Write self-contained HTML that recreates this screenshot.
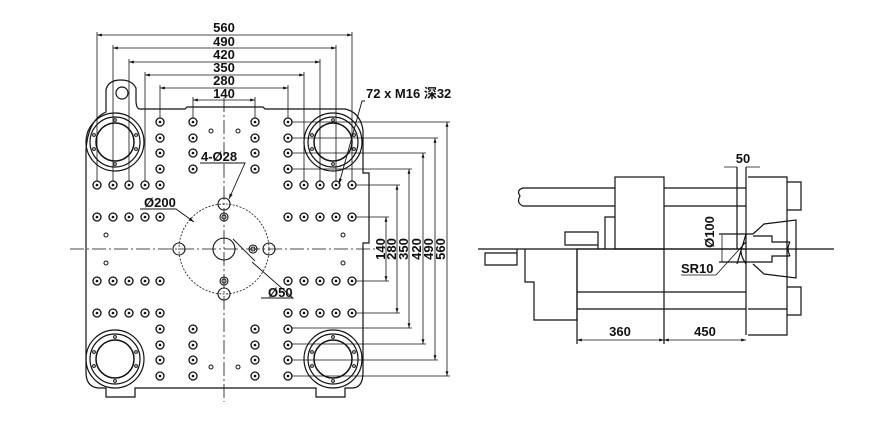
<!DOCTYPE html>
<html><head><meta charset="utf-8"><style>
html,body{margin:0;padding:0;background:#fff;width:880px;height:429px;overflow:hidden}
svg{display:block}
text{font-family:"Liberation Sans","Noto Sans CJK SC",sans-serif;font-weight:bold;font-size:13px;fill:#111}
</style></head><body>
<svg width="880" height="429" viewBox="0 0 880 429" xmlns="http://www.w3.org/2000/svg">
<defs>
<g id="h"><circle r="4" fill="none" stroke="#111" stroke-width="1.3"/><circle r="1.3" fill="#111"/></g>
<g id="ring">
<circle r="29" fill="none" stroke="#111" stroke-width="1.2"/>
<circle r="25" fill="none" stroke="#111" stroke-width="1.2"/>
<circle r="19" fill="none" stroke="#111" stroke-width="1.5"/>
<g fill="none" stroke="#111" stroke-width="1"><circle cx="0" cy="-22" r="1.4"/><circle cx="0" cy="22" r="1.4"/><circle cx="-21" cy="-7" r="1.4"/><circle cx="21" cy="-7" r="1.4"/><circle cx="-21" cy="7" r="1.4"/><circle cx="21" cy="7" r="1.4"/></g>
</g>
<marker id="a" viewBox="0 0 10 10" refX="10" refY="5" markerWidth="6" markerHeight="6" orient="auto-start-reverse"><path d="M0,2 L10,5 L0,8z" fill="#111"/></marker>
</defs>
<g stroke="#111" stroke-width="1.2" fill="none">
<path d="M86,150 L86,372 Q86,388 100,388 L106,388 L106,397 L135,397 L135,388 L316,388 L316,397 L345,397 L345,388 L352,388 Q363,388 363,372 L363,243 L369,243 L369,173 L363,173 L363,130 Q360,112 345,109 L265,109 L263,107 L187,107 L185,109 L140,109 Q136,109 136,100 L136,88 Q132,80 121,80 Q108,80 106,90 L106,112 Q88,120 86,150"/>
<circle cx="122" cy="93" r="6"/>
</g>
<use href="#ring" x="115" y="142"/><use href="#ring" x="333" y="142"/>
<use href="#ring" x="115" y="359"/><use href="#ring" x="333" y="359"/>
<g id="holes">
<use href="#h" x="160" y="122"/><use href="#h" x="193" y="122"/><use href="#h" x="255" y="122"/><use href="#h" x="288" y="122"/>
<use href="#h" x="160" y="138"/><use href="#h" x="193" y="138"/><use href="#h" x="255" y="138"/><use href="#h" x="288" y="138"/>
<use href="#h" x="160" y="153"/><use href="#h" x="193" y="153"/><use href="#h" x="255" y="153"/><use href="#h" x="288" y="153"/>
<use href="#h" x="160" y="169"/><use href="#h" x="193" y="169"/><use href="#h" x="255" y="169"/><use href="#h" x="288" y="169"/>
<use href="#h" x="97" y="185"/><use href="#h" x="113" y="185"/><use href="#h" x="129" y="185"/><use href="#h" x="145" y="185"/><use href="#h" x="160" y="185"/>
<use href="#h" x="288" y="185"/><use href="#h" x="304" y="185"/><use href="#h" x="320" y="185"/><use href="#h" x="336" y="185"/><use href="#h" x="352" y="185"/>
<use href="#h" x="97" y="217"/><use href="#h" x="113" y="217"/><use href="#h" x="129" y="217"/><use href="#h" x="145" y="217"/><use href="#h" x="160" y="217"/>
<use href="#h" x="288" y="217"/><use href="#h" x="304" y="217"/><use href="#h" x="320" y="217"/><use href="#h" x="336" y="217"/><use href="#h" x="352" y="217"/>
</g>
<use href="#holes" transform="translate(0,498) scale(1,-1)"/>
<g fill="none" stroke="#111" stroke-width="1">
<circle cx="211" cy="131" r="2"/><circle cx="238" cy="131" r="2"/><circle cx="211" cy="367" r="2"/><circle cx="238" cy="367" r="2"/>
<circle cx="106" cy="235" r="2"/><circle cx="106" cy="263" r="2"/><circle cx="343" cy="235" r="2"/><circle cx="343" cy="263" r="2"/>
</g>
<g stroke="#111" stroke-width="0.8" stroke-dasharray="14,3,2,3" fill="none">
<line x1="224" y1="98" x2="224" y2="402"/><line x1="70" y1="249" x2="375" y2="249"/>
</g>
<g fill="none" stroke="#111" stroke-width="1.1">
<circle cx="224" cy="249" r="45" stroke-dasharray="2,1.5" stroke-width="0.8"/>
<circle cx="224" cy="249" r="11"/>
<circle cx="224" cy="204" r="6"/><circle cx="224" cy="294" r="6"/><circle cx="179" cy="249" r="6"/><circle cx="269" cy="249" r="6"/>
<circle cx="224" cy="217" r="4"/><circle cx="224" cy="217" r="2"/><circle cx="224" cy="281" r="4"/><circle cx="224" cy="281" r="2"/><circle cx="253" cy="249" r="4"/><circle cx="253" cy="249" r="2"/>
</g>
<g stroke="#111" stroke-width="0.9" fill="none">
<path d="M200,163 L245,163 L229,199" marker-end="url(#a)"/>
<path d="M140,209 L176,209 L194,222" marker-end="url(#a)"/>
<path d="M261,298 L293,298 L252,262 M233,239 L255,261" />
<path d="M365,101 L362,101 L339,184" marker-end="url(#a)"/>
</g>
<text x="201" y="161">4-Ø28</text>
<text x="144" y="207">Ø200</text>
<text x="268" y="297">Ø50</text>
<text x="366" y="98">72 x M16 深32</text>
<g stroke="#111" stroke-width="0.8" fill="none">
<line x1="97" y1="35" x2="352" y2="35" marker-start="url(#a)" marker-end="url(#a)"/>
<line x1="113" y1="48" x2="336" y2="48" marker-start="url(#a)" marker-end="url(#a)"/>
<line x1="129" y1="62" x2="320" y2="62" marker-start="url(#a)" marker-end="url(#a)"/>
<line x1="145" y1="75" x2="304" y2="75" marker-start="url(#a)" marker-end="url(#a)"/>
<line x1="160" y1="88" x2="288" y2="88" marker-start="url(#a)" marker-end="url(#a)"/>
<line x1="193" y1="100" x2="255" y2="100" marker-start="url(#a)" marker-end="url(#a)"/>
<path d="M97,32V181 M352,32V181 M113,45V181 M336,45V181 M129,59V181 M320,59V181 M145,72V181 M304,72V181 M160,85V118 M288,85V118 M193,97V118 M255,97V118"/>
<path d="M292,122H450 M292,138H438 M292,153H426 M292,169H412 M356,185H400 M356,217H389 M356,281H389 M356,313H400 M292,328H412 M292,344H426 M292,360H438 M292,376H450"/>
<line x1="447" y1="122" x2="447" y2="376" marker-start="url(#a)" marker-end="url(#a)"/>
<line x1="435" y1="138" x2="435" y2="360" marker-start="url(#a)" marker-end="url(#a)"/>
<line x1="423" y1="153" x2="423" y2="344" marker-start="url(#a)" marker-end="url(#a)"/>
<line x1="409" y1="169" x2="409" y2="328" marker-start="url(#a)" marker-end="url(#a)"/>
<line x1="397" y1="185" x2="397" y2="313" marker-start="url(#a)" marker-end="url(#a)"/>
<line x1="386" y1="217" x2="386" y2="281" marker-start="url(#a)" marker-end="url(#a)"/>
</g>
<text x="224" y="32" text-anchor="middle">560</text>
<text x="224" y="46" text-anchor="middle">490</text>
<text x="224" y="59" text-anchor="middle">420</text>
<text x="224" y="72" text-anchor="middle">350</text>
<text x="224" y="85" text-anchor="middle">280</text>
<text x="224" y="98" text-anchor="middle">140</text>
<g text-anchor="middle">
<text transform="translate(385,249) rotate(-90)">140</text>
<text transform="translate(396,249) rotate(-90)">280</text>
<text transform="translate(408,249) rotate(-90)">350</text>
<text transform="translate(421,249) rotate(-90)">420</text>
<text transform="translate(433,249) rotate(-90)">490</text>
<text transform="translate(445,249) rotate(-90)">560</text>
</g>
<g stroke="#111" stroke-width="1.2" fill="none">
<line x1="478" y1="249" x2="834" y2="249"/>
<path d="M615,188H523 Q516,190 520,196 Q516,203 523,206 H615"/>
<rect x="615" y="177" width="49" height="72"/>
<path d="M664,188H746 M664,206H746"/>
<path d="M615,217H605V249"/>
<path d="M598,249V245H565V232H598V245"/>
<path d="M485,253H517V265H485Z M517,253V249"/>
<path d="M525,249V282H534V320H577V249"/>
<path d="M577,249V344 M577,292H746 M577,309H746 M664,249V344 M577,249H746"/>
<path d="M746,167V335 M737,167V249"/>
<path d="M748,177H787V335H748 M748,309H787"/>
<path d="M787,182H801V210H787 M787,287H801V315H787"/>
<path d="M753,234L764,224L796,220V278L764,274L753,264"/>
<path d="M753,236H772V242H790 M753,262H772V256H790 M790,242Q786,249 790,256"/>
<path d="M719,234H753 M719,262H753 M737,264L746,234 M746,264Q736,249 746,242"/>
</g>
<g stroke="#111" stroke-width="0.8" fill="none">
<line x1="577" y1="340" x2="664" y2="340" marker-start="url(#a)" marker-end="url(#a)"/>
<line x1="664" y1="340" x2="746" y2="340" marker-start="url(#a)" marker-end="url(#a)"/>
<line x1="722" y1="235" x2="722" y2="262"/>
<path d="M724,167H737 M746,167H760"/>
<path d="M681,275H716L745,243"/>
</g>
<text x="743" y="163" text-anchor="middle">50</text>
<text transform="translate(714,232) rotate(-90)" text-anchor="middle">Ø100</text>
<text x="681" y="273">SR10</text>
<text x="620" y="336" text-anchor="middle">360</text>
<text x="705" y="336" text-anchor="middle">450</text>
</svg>
</body></html>
